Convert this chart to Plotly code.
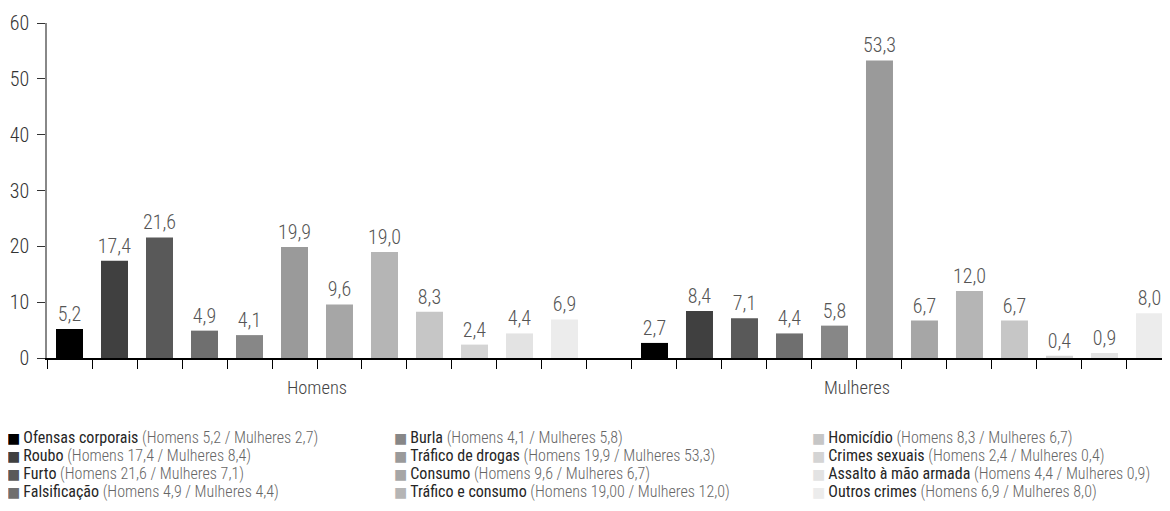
import plotly.graph_objects as go

# crime categories, in legend / bar order
crimes = ["Ofensas corporais", "Roubo", "Furto", "Falsificação", "Burla",
          "Tráfico de drogas", "Consumo", "Tráfico e consumo", "Homicídio",
          "Crimes sexuais", "Assalto à mão armada", "Outros crimes"]
homens = [5.2, 17.4, 21.6, 4.9, 4.1, 19.9, 9.6, 19.0, 8.3, 2.4, 4.4, 6.9]
mulheres = [2.7, 8.4, 7.1, 4.4, 5.8, 53.3, 6.7, 12.0, 6.7, 0.4, 0.9, 8.0]
# values as printed in the legend
homens_txt = ["5,2", "17,4", "21,6", "4,9", "4,1", "19,9", "9,6", "19,00", "8,3", "2,4", "4,4", "6,9"]
mulheres_txt = ["2,7", "8,4", "7,1", "4,4", "5,8", "53,3", "6,7", "12,0", "6,7", "0,4", "0,9", "8,0"]
groups = ["Homens", "Mulheres"]

colors = ["#000000", "#404040", "#595959", "#6f6f6f", "#878787", "#9a9a9a",
          "#a6a6a6", "#b5b5b5", "#c6c6c6", "#d4d4d4", "#e3e3e3", "#ececec"]

FONT = "Roboto Condensed, Liberation Sans Narrow, sans-serif"
n = len(crimes)
offset = n + 1  # one empty slot between the groups

fig = go.Figure()
for i, name in enumerate(crimes):
    fig.add_trace(go.Bar(
        x=[i, offset + i],
        y=[homens[i], mulheres[i]],
        name=name,
        width=0.6,
        marker=dict(color=colors[i], line=dict(width=0)),
        texttemplate="%{y:.1f}",
        textposition="outside",
        constraintext="none",
        textfont=dict(family=FONT, size=20, color="#555555", weight=300),
        cliponaxis=False,
        showlegend=False,
    ))

# legend drawn as text, three columns of four rows
col_x = [-0.037, 0.307, 0.679]
for i, name in enumerate(crimes):
    col, row = divmod(i, 4)
    txt = (f"<span style='font-family:DejaVu Sans;font-size:14px;color:{colors[i]}'>■</span>\u2009"
           f"<span style='color:#262626'>{name}</span> "
           f"<span style='color:#666666;font-weight:300'>(Homens {homens_txt[i]} / Mulheres {mulheres_txt[i]})</span>")
    fig.add_annotation(
        text=txt, xref="paper", yref="paper",
        x=col_x[col], y=-0.236 - row * 0.0546,
        xanchor="left", yanchor="middle", showarrow=False,
        font=dict(family=FONT, size=16),
    )

fig.update_layout(
    width=1170, height=511,
    margin=dict(l=39, r=8, t=15, b=161),
    paper_bgcolor="white", plot_bgcolor="white",
    separators=",.",
    barmode="overlay",
    font=dict(family=FONT, color="#333333"),
    xaxis=dict(
        range=[-0.5, 24.456],
        automargin=False,
        tickmode="array",
        tickvals=[(n - 1) / 2, offset + (n - 1) / 2 - 1],
        ticktext=groups,
        ticks="",
        ticklabelstandoff=12,
        tickfont=dict(family=FONT, size=18.5, color="#444444", weight=300),
        minor=dict(tick0=-0.5, dtick=1, ticks="outside", ticklen=9,
                   tickcolor="#000000", tickwidth=1.2, showgrid=False),
        showline=True, linecolor="#000000", linewidth=1.5,
        showgrid=False, zeroline=False,
    ),
    yaxis=dict(
        range=[0, 60], dtick=10,
        automargin=False,
        ticks="outside", ticklen=8, tickcolor="#333333", tickwidth=1.2,
        ticklabelstandoff=4,
        tickfont=dict(family=FONT, size=20, color="#333333", weight=300),
        showline=True, linecolor="#888888", linewidth=1.5,
        showgrid=False, zeroline=False,
    ),
)

fig.write_html("out.html")
